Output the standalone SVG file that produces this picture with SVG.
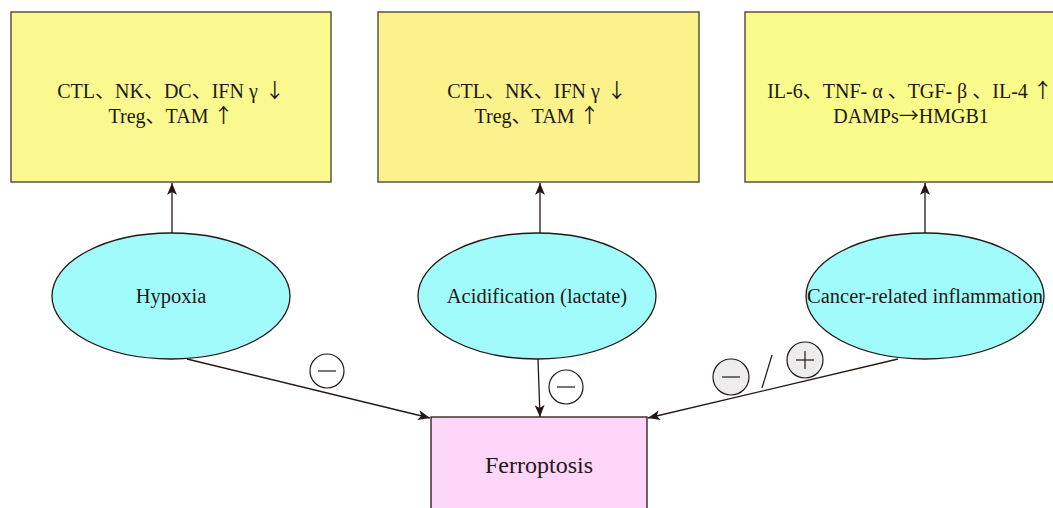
<svg xmlns="http://www.w3.org/2000/svg" width="1053" height="508" viewBox="0 0 1053 508">
<defs>
<style>
.box{stroke:#5b5346;stroke-width:1.5}
.ell{fill:#A2FBFB;stroke:#231815;stroke-width:1.3}
.t{font-family:"Liberation Serif","Noto Sans CJK SC",serif;font-size:20px;fill:#231815;text-anchor:middle}
.lb{font-size:20.5px}
.ar{font-family:"Noto Sans CJK SC",sans-serif;font-size:20px;fill:#231815}
.ln{stroke:#231815;stroke-width:1.3;fill:none}
.sym{stroke:#231815;stroke-width:1.2}
</style>
<marker id="ah" viewBox="0 0 12 10" refX="12" refY="5" markerWidth="12" markerHeight="10" markerUnits="userSpaceOnUse" orient="auto">
<path d="M0,0 L12,5 L0,10 L3,5 Z" fill="#231815"/>
</marker>
</defs>
<g id="box1"><rect class="box" x="11" y="12" width="320" height="170" fill="#F9F98F"/>
<text class="t" x="171" y="98">CTL、NK、DC、IFN γ <tspan class="ar" dx="2">↓</tspan></text>
<text class="t" x="171" y="123">Treg、TAM <tspan class="ar">↑</tspan></text></g>
<g id="box2"><rect class="box" x="378" y="12" width="321" height="170" fill="#FCF28B"/>
<text class="t" x="537" y="98">CTL、NK、IFN γ <tspan class="ar" dx="2">↓</tspan></text>
<text class="t" x="537" y="123">Treg、TAM <tspan class="ar">↑</tspan></text></g>
<g id="box3"><rect class="box" x="745" y="12" width="330" height="170" fill="#F9FB8A"/>
<text class="t" x="910" y="98">IL-6、TNF- α 、TGF- β 、IL-4 <tspan class="ar">↑</tspan></text>
<text class="t" x="911" y="123">DAMPs<tspan class="ar">→</tspan>HMGB1</text></g>
<g id="hypoxia"><ellipse class="ell" cx="171" cy="296" rx="119" ry="63"/>
<text class="t lb" x="171" y="303">Hypoxia</text></g>
<g id="acid"><ellipse class="ell" cx="537" cy="296" rx="119" ry="63"/>
<text class="t lb" x="537" y="303">Acidification (lactate)</text></g>
<g id="inflam"><ellipse class="ell" cx="925" cy="296" rx="119" ry="63"/>
<text class="t lb" x="925" y="303">Cancer-related inflammation</text></g>
<g id="ferroptosis"><rect x="431" y="417" width="216" height="100" fill="#FDD6FA" stroke="#231815" stroke-width="1.3"/>
<text class="t" x="539" y="473" style="font-size:24px">Ferroptosis</text></g>
<g id="connectors">
<line class="ln" x1="172" y1="233" x2="172" y2="183" marker-end="url(#ah)"/>
<line class="ln" x1="540" y1="233" x2="540" y2="183" marker-end="url(#ah)"/>
<line class="ln" x1="925" y1="233" x2="925" y2="183" marker-end="url(#ah)"/>
<line class="ln" x1="187" y1="359" x2="430" y2="418" marker-end="url(#ah)"/>
<line class="ln" x1="538" y1="359" x2="540" y2="417" marker-end="url(#ah)"/>
<line class="ln" x1="898" y1="359" x2="648" y2="418" marker-end="url(#ah)"/>
</g>
<g id="signs">
<circle class="sym" cx="327" cy="371" r="17" fill="#fff"/>
<line class="sym" x1="318" y1="371" x2="336" y2="371"/>
<circle class="sym" cx="566" cy="387" r="17" fill="#fff"/>
<line class="sym" x1="557" y1="387" x2="575" y2="387"/>
<circle class="sym" cx="731" cy="377" r="18" fill="#EDEDED"/>
<line class="sym" x1="722" y1="377" x2="740" y2="377"/>
<line class="sym" x1="772" y1="355" x2="762" y2="388"/>
<circle class="sym" cx="805" cy="360" r="18" fill="#EDEDED"/>
<line class="sym" x1="796" y1="360" x2="814" y2="360"/>
<line class="sym" x1="805" y1="351" x2="805" y2="369"/>
</g>
</svg>
